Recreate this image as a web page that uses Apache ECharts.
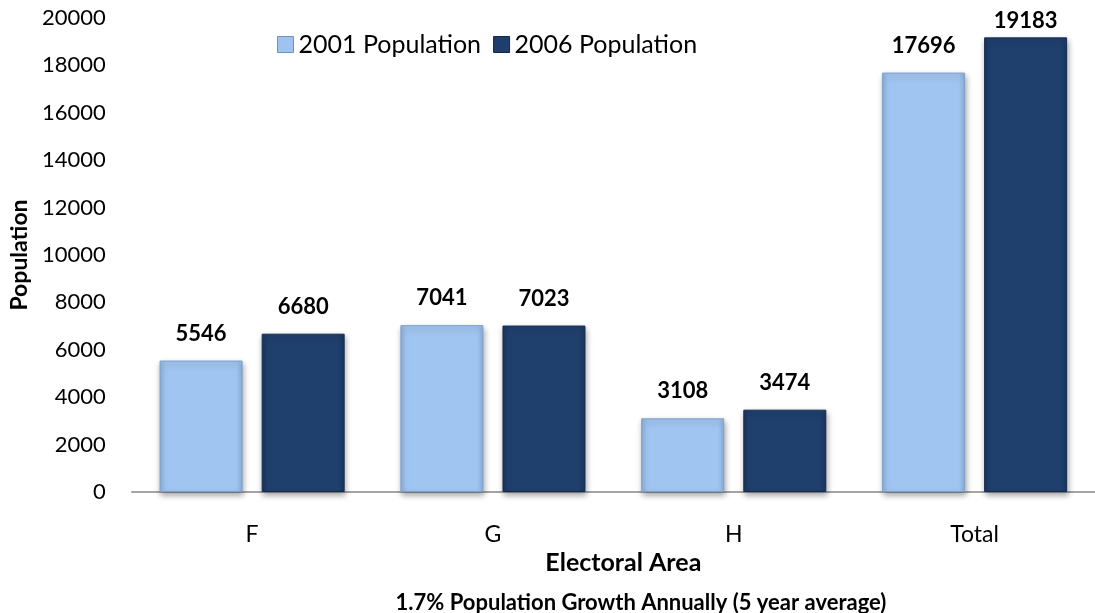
<!DOCTYPE html>
<html>
<head>
<meta charset="utf-8">
<script src="https://cdn.jsdelivr.net/npm/echarts@6/dist/echarts.min.js"></script>
<style>
  html, body { margin: 0; padding: 0; background: #fff; }
  #chart { width: 1095px; height: 613px; }
</style>
</head>
<body>
<div id="chart"></div>
<script>
// Electoral areas and census populations
const categories = ['F', 'G', 'H', 'Total'];
const pop2001 = [5546, 7041, 3108, 17696];
const pop2006 = [6680, 7023, 3474, 19183];
const seriesNames = ['2001 Population', '2006 Population'];
const yTicks = { min: 0, max: 20000, interval: 2000 };

const FONT = 'Lato, "Open Sans", sans-serif';

// Bevelled bar fill: slightly darker at the edges, lighter in the middle
function barFill(edge, mid) {
  return new echarts.graphic.LinearGradient(0, 0, 1, 0, [
    { offset: 0, color: edge },
    { offset: 0.07, color: mid },
    { offset: 0.93, color: mid },
    { offset: 1, color: edge }
  ]);
}

function makeSeries(name, data, edge, mid, border) {
  return {
    name: name,
    type: 'bar',
    data: data,
    barWidth: 83,
    barGap: '23%',
    itemStyle: {
      color: barFill(edge, mid),
      borderColor: border,
      borderWidth: 1,
      shadowColor: 'rgba(0,0,0,0.35)',
      shadowBlur: 6,
      shadowOffsetX: 1,
      shadowOffsetY: 3
    },
    label: {
      show: true,
      position: 'top',
      distance: 16,
      color: '#000',
      fontFamily: FONT,
      fontWeight: 'bold',
      fontSize: 22
    },
    labelLayout: function (p) {
      // keep labels of tall bars inside the chart area
      return { dy: Math.max(0, 10 - p.labelRect.y) };
    }
  };
}

const chart = echarts.init(document.getElementById('chart'));
chart.setOption({
  animation: false,
  textStyle: { fontFamily: FONT },
  title: {
    text: '1.7% Population Growth Annually (5 year average)',
    left: 636,
    textAlign: 'center',
    top: 587,
    textStyle: { fontFamily: FONT, fontWeight: 'bold', fontSize: 22, color: '#000' }
  },
  legend: {
    left: 277,
    top: 32,
    padding: 0,
    itemWidth: 16,
    itemHeight: 16,
    itemGap: 12,
    textStyle: { fontFamily: FONT, fontSize: 25, color: '#000' },
    data: [
      { name: seriesNames[0], icon: 'rect', itemStyle: { color: '#9dc3ee', borderColor: '#6f93c0', borderWidth: 1 } },
      { name: seriesNames[1], icon: 'rect', itemStyle: { color: '#1f3e6c', borderColor: '#12294d', borderWidth: 1 } }
    ]
  },
  grid: { left: 130, right: -15, top: 18, bottom: 121, containLabel: false },
  xAxis: {
    type: 'category',
    data: categories,
    name: 'Electoral Area',
    nameLocation: 'middle',
    nameGap: 46,
    nameTextStyle: {
      fontFamily: FONT, fontWeight: 'bold', fontSize: 25, color: '#000',
      padding: [0, 0, 0, 20]
    },
    axisLine: { lineStyle: { color: '#888', width: 1.5 } },
    axisTick: { show: false },
    axisLabel: { margin: 31, fontSize: 23, color: '#000', fontFamily: FONT }
  },
  yAxis: {
    type: 'value',
    min: yTicks.min,
    max: yTicks.max,
    interval: yTicks.interval,
    name: 'Population',
    nameLocation: 'middle',
    nameGap: 93,
    nameTextStyle: { fontFamily: FONT, fontWeight: 'bold', fontSize: 23, color: '#000' },
    axisLine: { show: false },
    axisTick: { show: false },
    splitLine: { show: false },
    axisLabel: {
      margin: 26, fontSize: 22, color: '#000', fontFamily: FONT,
      formatter: function (v) { return String(v); }
    }
  },
  series: [
    makeSeries(seriesNames[0], pop2001, '#8bb1df', '#a0c5f0', '#7d9fc9'),
    makeSeries(seriesNames[1], pop2006, '#1a365f', '#1f3f6d', '#142c52')
  ]
});
</script>
</body>
</html>
